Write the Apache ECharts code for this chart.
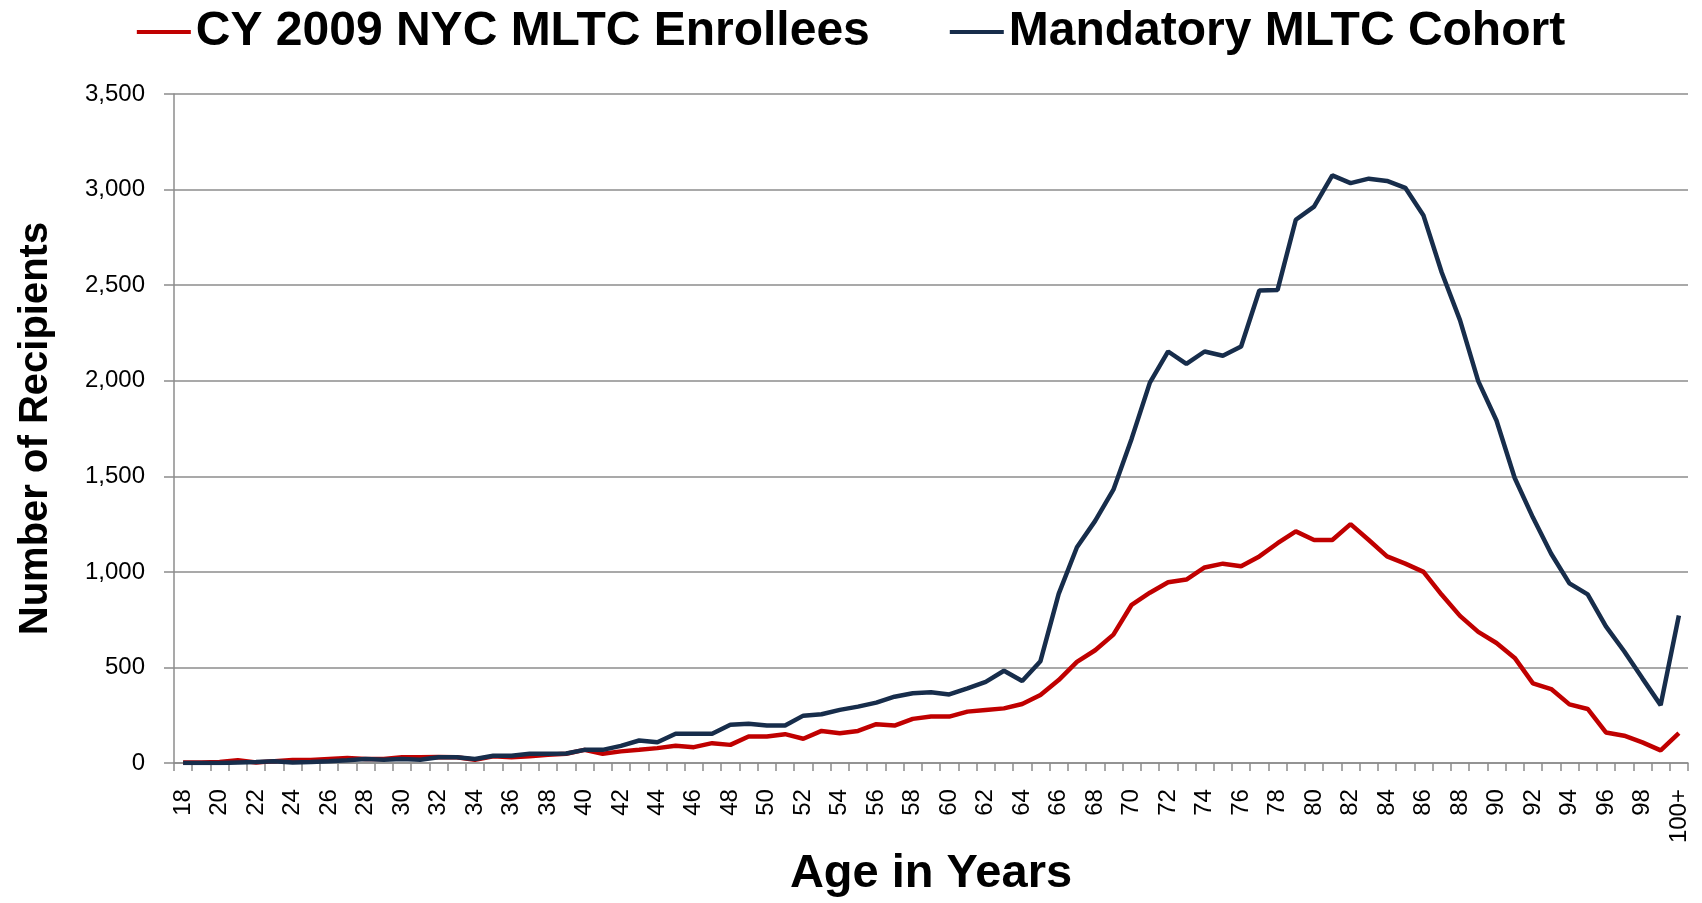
<!DOCTYPE html>
<html>
<head>
<meta charset="utf-8">
<script src="https://cdn.jsdelivr.net/npm/echarts@6/dist/echarts.min.js"></script>
<style>
  html, body { margin: 0; padding: 0; background: #fff; }
  #chart { width: 1702px; height: 903px; }
</style>
</head>
<body>
<div id="chart"></div>
<script>
// age categories (x axis)
const ages = [
  '18', '19', '20', '21', '22', '23', '24', '25', '26', '27',
  '28', '29', '30', '31', '32', '33', '34', '35', '36', '37',
  '38', '39', '40', '41', '42', '43', '44', '45', '46', '47',
  '48', '49', '50', '51', '52', '53', '54', '55', '56', '57',
  '58', '59', '60', '61', '62', '63', '64', '65', '66', '67',
  '68', '69', '70', '71', '72', '73', '74', '75', '76', '77',
  '78', '79', '80', '81', '82', '83', '84', '85', '86', '87',
  '88', '89', '90', '91', '92', '93', '94', '95', '96', '97',
  '98', '99', '100+'
];

// CY 2009 NYC MLTC Enrollees
const enrollees = [
  3, 3, 5, 15, 3, 10, 16, 16, 21, 26,
  21, 21, 30, 30, 31, 30, 17, 35, 30, 35,
  43, 49, 69, 49, 61, 69, 78, 90, 83, 104,
  95, 139, 139, 151, 127, 168, 156, 168, 203, 196,
  231, 243, 243, 269, 278, 286, 309, 356, 434, 529,
  590, 672, 828, 891, 946, 960, 1023, 1043, 1029, 1081,
  1150, 1212, 1167, 1167, 1250, 1167, 1081, 1043, 1000, 880,
  770, 686, 628, 550, 417, 387, 307, 283, 160, 143,
  108, 66, 156
];

// Mandatory MLTC Cohort
const cohort = [
  0, 0, 0, 3, 5, 9, 3, 5, 9, 14,
  21, 17, 21, 17, 30, 30, 21, 38, 38, 49,
  49, 50, 69, 69, 90, 118, 109, 153, 153, 153,
  200, 205, 196, 196, 248, 255, 278, 295, 316, 347,
  365, 370, 359, 391, 425, 483, 429, 533, 885, 1129,
  1267, 1430, 1697, 1990, 2153, 2088, 2153, 2131, 2179, 2472,
  2475, 2842, 2911, 3074, 3034, 3057, 3045, 3009, 2864, 2566,
  2317, 1998, 1792, 1491, 1284, 1095, 940, 882, 715, 585,
  443, 303, 772
];

const font = '"Liberation Sans", Arial, sans-serif';
const gray = '#8c8c8c';

const chart = echarts.init(document.getElementById('chart'));

chart.setOption({
  animation: false,
  textStyle: { fontFamily: font },
  legend: {
    top: 3,
    left: 'center',
    icon: 'rect',
    itemWidth: 54,
    itemHeight: 4,
    itemGap: 80,
    textStyle: { fontSize: 48, fontWeight: 'bold', color: '#000', fontFamily: font },
    data: ['CY 2009 NYC MLTC Enrollees', 'Mandatory MLTC Cohort']
  },
  grid: { left: 174, right: 14, top: 94, bottom: 131, containLabel: false },
  xAxis: {
    type: 'category',
    data: ages,
    boundaryGap: true,
    name: 'Age in Years',
    nameLocation: 'middle',
    nameGap: 76,
    nameTextStyle: { fontSize: 47, fontWeight: 'bold', color: '#000', fontFamily: font },
    axisLine: { lineStyle: { color: gray, width: 1.5 } },
    axisTick: { show: true, interval: 0, length: 8, lineStyle: { color: gray, width: 1.5 } },
    axisLabel: { interval: 1, rotate: 90, fontSize: 24, color: '#000', margin: 26, fontFamily: font },
    splitLine: { show: false }
  },
  yAxis: {
    type: 'value',
    min: 0,
    max: 3500,
    interval: 500,
    name: 'Number of Recipients',
    nameLocation: 'middle',
    nameRotate: 90,
    nameGap: 118,
    nameTextStyle: { fontSize: 40, fontWeight: 'bold', color: '#000', fontFamily: font },
    axisLine: { show: true, lineStyle: { color: gray, width: 1.5 } },
    axisTick: { show: true, length: 10, lineStyle: { color: gray, width: 1.5 } },
    axisLabel: {
      fontSize: 24, color: '#000', margin: 29, fontFamily: font,
      formatter: v => v.toLocaleString('en-US')
    },
    splitLine: { show: true, lineStyle: { color: gray, width: 1.5 } }
  },
  series: [
    {
      name: 'CY 2009 NYC MLTC Enrollees',
      type: 'line',
      data: enrollees,
      color: '#c00000',
      showSymbol: false,
      symbol: 'none',
      lineStyle: { width: 4.5, color: '#c00000' }
    },
    {
      name: 'Mandatory MLTC Cohort',
      type: 'line',
      data: cohort,
      color: '#172d4b',
      showSymbol: false,
      symbol: 'none',
      lineStyle: { width: 4.5, color: '#172d4b' }
    }
  ]
});
</script>
</body>
</html>
